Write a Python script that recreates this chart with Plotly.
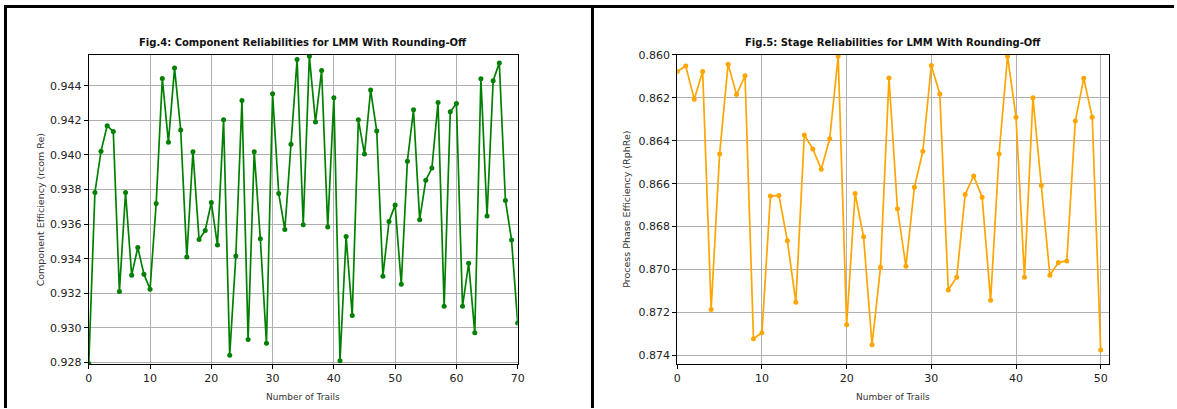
import plotly.graph_objects as go

W, H = 1177, 409
# the photo maps page pixels p -> 4 + p*(1169/1177) (x) and 4 + p*(401/409) (y);
# positions below are given in photo pixels and converted back to paper fractions
PX0, PXW = 4, 1169
PY0, PYH = 4, 401

trials4 = list(range(0, 71))
comp_eff = [0.92794, 0.93783, 0.94022, 0.94169, 0.94135, 0.93211, 0.93783, 0.93305, 0.93465, 0.93311,
            0.93224, 0.93720, 0.94442, 0.94073, 0.94502, 0.94144, 0.93410, 0.94018, 0.93511, 0.93563,
            0.93725, 0.93479, 0.94203, 0.92842, 0.93416, 0.94314, 0.92934, 0.94018, 0.93515, 0.92911,
            0.94354, 0.93777, 0.93569, 0.94062, 0.94552, 0.93597, 0.94570, 0.94190, 0.94488, 0.93584,
            0.94331, 0.92810, 0.93528, 0.93072, 0.94203, 0.94005, 0.94375, 0.94138, 0.93299, 0.93616,
            0.93710, 0.93253, 0.93964, 0.94261, 0.93626, 0.93853, 0.93924, 0.94303, 0.93125, 0.94249,
            0.94297, 0.93125, 0.93374, 0.92972, 0.94440, 0.93647, 0.94429, 0.94532, 0.93737, 0.93509,
            0.93029]

trials5 = list(range(0, 51))
stage_eff = [0.86077, 0.86052, 0.86206, 0.86077, 0.87187, 0.86462, 0.86043, 0.86185, 0.86097, 0.87323,
             0.87295, 0.86658, 0.86655, 0.86866, 0.87153, 0.86373, 0.86438, 0.86533, 0.86391, 0.86006,
             0.87258, 0.86646, 0.86848, 0.87351, 0.86990, 0.86108, 0.86717, 0.86985, 0.86617, 0.86449,
             0.86049, 0.86182, 0.87096, 0.87036, 0.86650, 0.86564, 0.86663, 0.87144, 0.86462, 0.86006,
             0.86290, 0.87036, 0.86200, 0.86609, 0.87027, 0.86968, 0.86960, 0.86308, 0.86109, 0.86290,
             0.87375]

ticks4 = [0.928, 0.930, 0.932, 0.934, 0.936, 0.938, 0.940, 0.942, 0.944]
ticks5 = [0.860, 0.862, 0.864, 0.866, 0.868, 0.870, 0.872, 0.874]
xticks4 = [0, 10, 20, 30, 40, 50, 60, 70]
xticks5 = [0, 10, 20, 30, 40, 50]

title4 = "Fig.4: Component Reliabilities for LMM With Rounding-Off"
title5 = "Fig.5: Stage Reliabilities for LMM With Rounding-Off"

def px(x):
    return (x - PX0) / PXW

def py(y):
    return 1 - (y - PY0) / PYH

FONT = "DejaVu Sans"
fig = go.Figure()
fig.add_trace(go.Scatter(x=trials4, y=comp_eff, mode="lines+markers",
                         line=dict(color="green", width=1.7),
                         marker=dict(color="green", size=5),
                         xaxis="x", yaxis="y", showlegend=False))
fig.add_trace(go.Scatter(x=trials5, y=stage_eff, mode="lines+markers",
                         line=dict(color="orange", width=1.7),
                         marker=dict(color="orange", size=5),
                         xaxis="x2", yaxis="y2", showlegend=False))

top, bot = 53.3, 365
axis_common = dict(showline=True, linecolor="black", linewidth=1, mirror=True,
                   ticks="outside", ticklen=4, tickcolor="black", tickwidth=1,
                   showgrid=True, gridcolor="#b0b0b0", gridwidth=0.8, zeroline=False,
                   tickfont=dict(family=FONT, size=11, color="#222"))

fig.update_layout(
    width=W, height=H, autosize=False,
    margin=dict(l=0, r=0, t=0, b=0),
    paper_bgcolor="white", plot_bgcolor="white",
    xaxis=dict(domain=[px(89), px(519)], range=[0, 70], tickvals=xticks4, anchor="y", **axis_common),
    yaxis=dict(domain=[py(bot), py(top)], range=[0.92790, 0.94578], tickvals=ticks4,
               tickformat=".3f", anchor="x", **axis_common),
    xaxis2=dict(domain=[px(679), px(1112)], range=[0, 51], tickvals=xticks5, anchor="y2", **axis_common),
    yaxis2=dict(domain=[py(bot), py(top)], range=[0.87442, 0.860], tickvals=ticks5,
                tickformat=".3f", anchor="x2", **axis_common),
)

ann = []
ann.append(dict(text="<b>" + title4 + "</b>", x=px(304), y=py(41), xref="paper", yref="paper",
                showarrow=False, xanchor="center", yanchor="middle",
                font=dict(family=FONT, size=10, color="#111")))
ann.append(dict(text="<b>" + title5 + "</b>", x=px(895), y=py(41), xref="paper", yref="paper",
                showarrow=False, xanchor="center", yanchor="middle",
                font=dict(family=FONT, size=10, color="#111")))
ann.append(dict(text="Number of Trails", x=px(304), y=py(398), xref="paper", yref="paper",
                showarrow=False, xanchor="center", yanchor="middle",
                font=dict(family=FONT, size=9, color="#333")))
ann.append(dict(text="Number of Trails", x=px(895), y=py(398), xref="paper", yref="paper",
                showarrow=False, xanchor="center", yanchor="middle",
                font=dict(family=FONT, size=9, color="#333")))
ann.append(dict(text="Component Efficiency (rcom Re)", x=px(41), y=py(209), xref="paper", yref="paper",
                showarrow=False, xanchor="center", yanchor="middle", textangle=-90,
                font=dict(family=FONT, size=9.5, color="#333")))
ann.append(dict(text="Process Phase Efficiency (RphRe)", x=px(628), y=py(209), xref="paper", yref="paper",
                showarrow=False, xanchor="center", yanchor="middle", textangle=-90,
                font=dict(family=FONT, size=9.5, color="#333")))
fig.update_layout(annotations=ann)

shapes = [
    dict(type="line", xref="paper", yref="paper", x0=px(4), x1=px(1177), y0=py(4.5), y1=py(4.5),
         line=dict(color="black", width=3)),
    dict(type="line", xref="paper", yref="paper", x0=px(5.5), x1=px(5.5), y0=py(4), y1=py(409),
         line=dict(color="black", width=3)),
    dict(type="line", xref="paper", yref="paper", x0=px(594), x1=px(594), y0=py(4), y1=py(409),
         line=dict(color="black", width=3)),
]
fig.update_layout(shapes=shapes)

fig.write_html("out.html", config={"displayModeBar": False},
               post_script="document.body.style.margin='0';document.body.style.padding='0';"
                           "document.body.style.overflow='hidden';")
